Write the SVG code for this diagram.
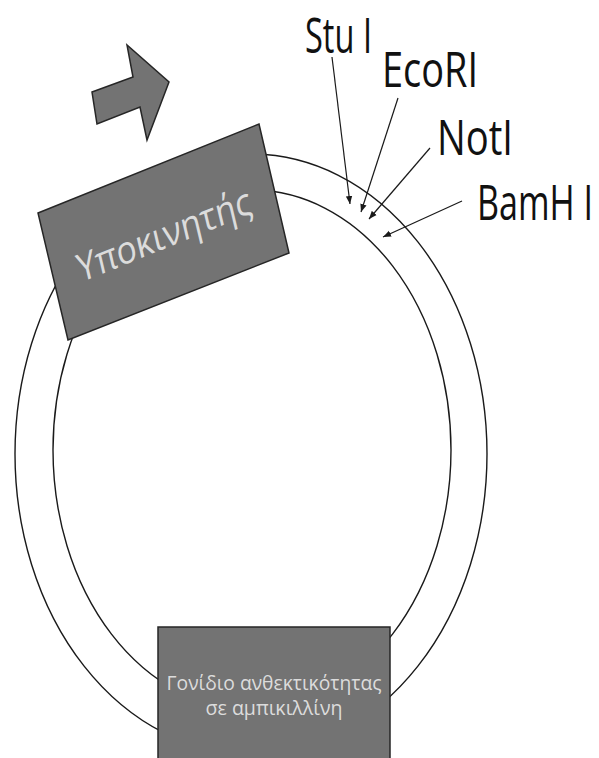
<svg xmlns="http://www.w3.org/2000/svg" width="599" height="758" viewBox="0 0 599 758">
  <style>
    .strand { fill: none; stroke: #1a1a1a; stroke-width: 1.4; }
    .block { fill: #737373; stroke: #262626; stroke-width: 1.5; stroke-linejoin: miter; }
    .block-label { fill: #dcdcdc; font-family: "Open Sans", "Noto Sans", "DejaVu Sans", sans-serif; }
    .site-label { fill: #111; font-family: "Open Sans", "Noto Sans", "DejaVu Sans", sans-serif; font-size: 49px; }
    .pointer { stroke: #1a1a1a; stroke-width: 1.2; fill: none; marker-end: url(#tip); }
  </style>
  <defs>
    <marker id="tip" markerUnits="userSpaceOnUse" markerWidth="9" markerHeight="8" refX="8" refY="4" orient="auto">
      <path d="M0,0.8 L8,4 L0,7.2 Z" fill="#1a1a1a"/>
    </marker>
  </defs>

  <rect width="599" height="758" fill="#ffffff"/>

  <!-- plasmid: two strands -->
  <g id="plasmid">
    <ellipse class="strand" cx="251" cy="454" rx="236" ry="300"/>
    <ellipse class="strand" cx="252" cy="450" rx="199" ry="260"/>
  </g>

  <!-- transcription direction -->
  <g id="direction-arrow">
    <polygon class="block" stroke-width="1.2" points="92,92 133,77 127,45 169,82 147,140 140,107 97,124"/>
  </g>

  <!-- promoter block -->
  <g id="promoter">
    <polygon class="block" points="38,213 259,124 289,253 68,340"/>
    <g transform="matrix(0.9286,-0.374,0.2308,0.977,38,213)">
      <text class="block-label" x="119" y="81" font-size="38" text-anchor="middle" textLength="186" lengthAdjust="spacingAndGlyphs">Υποκινητής</text>
    </g>
  </g>

  <!-- ampicillin resistance gene block -->
  <g id="resistance-gene">
    <rect class="block" x="158" y="627" width="232" height="145"/>
    <text class="block-label" x="274" y="690" font-size="20" text-anchor="middle" textLength="215" lengthAdjust="spacingAndGlyphs">Γονίδιο ανθεκτικότητας</text>
    <text class="block-label" x="274" y="715" font-size="20" text-anchor="middle" textLength="137" lengthAdjust="spacingAndGlyphs">σε αμπικιλλίνη</text>
  </g>

  <!-- restriction site labels (narrow, tall lettering) -->
  <g id="site-stui">
    <text class="site-label" transform="translate(305,53) scale(0.67,1)" textLength="100" lengthAdjust="spacingAndGlyphs">Stu I</text>
  </g>
  <g id="site-ecori">
    <text class="site-label" transform="translate(382,87) scale(0.77,1)" textLength="124.7" lengthAdjust="spacingAndGlyphs">EcoRI</text>
  </g>
  <g id="site-noti">
    <text class="site-label" transform="translate(437,155) scale(0.76,1)" textLength="100" lengthAdjust="spacingAndGlyphs">NotI</text>
  </g>
  <g id="site-bamhi">
    <text class="site-label" transform="translate(477,220) scale(0.71,1)" textLength="163.4" lengthAdjust="spacingAndGlyphs">BamH I</text>
  </g>

  <!-- pointers to the cut sites -->
  <g id="connectors">
    <line class="pointer" x1="332" y1="57" x2="350" y2="204"/>
    <line class="pointer" x1="398" y1="98" x2="361" y2="212"/>
    <line class="pointer" x1="430" y1="148" x2="369" y2="219"/>
    <line class="pointer" x1="462" y1="201" x2="383" y2="237"/>
  </g>
</svg>
